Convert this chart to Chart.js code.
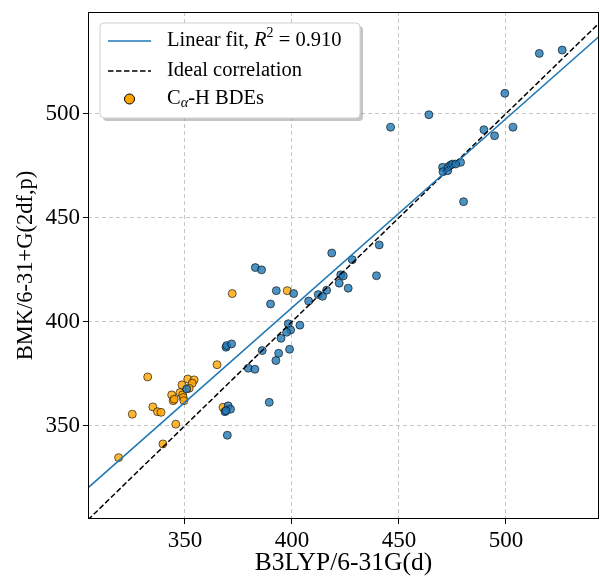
<!DOCTYPE html>
<html><head><meta charset="utf-8">
<script src="https://cdn.jsdelivr.net/npm/chart.js@4"></script>
<style>html,body{margin:0;padding:0;background:#fff;overflow:hidden}canvas{display:block}</style>
</head><body>
<canvas id="c" width="600" height="580"></canvas>
<script>
// ---- data ----
const xTicks = [350, 400, 450, 500];
const yTicks = [350, 400, 450, 500];
const xLimits = [304.7, 543.5];
const yLimits = [305.1, 548.9];

const otherX = [369.2,369.5,371.8,379.6,382.7,370.2,371.3,368.7,369.2,369.8,350.8,386.1,389.4,382.9,385.8,392.7,400.8,390.0,407.8,412.3,414.3,416.2,418.6,428.2,422.8,424.0,422.1,426.3,439.5,440.8,398.3,399.4,397.5,394.9,403.7,398.9,393.8,392.5,499.5,464.0,446.1,503.3,489.7,494.7,478.8,470.4,470.6,472.8,473.1,474.2,475.1,476.5,480.2,515.6,526.3];
const otherY = [387.7,388.5,389.3,377.6,377.1,359.5,357.9,356.7,357.2,345.4,367.6,386.1,361.2,426.0,424.9,414.9,413.5,408.5,409.9,413.0,412.2,415.1,433.0,429.8,422.5,422.0,418.5,416.1,422.1,436.9,399.0,396.0,394.9,392.0,398.3,386.7,384.8,381.3,509.8,499.5,493.5,493.5,492.3,489.4,476.6,474.2,472.1,472.6,474.5,475.3,475.8,475.8,457.7,529.0,530.6];

const caX = [372.1,332.6,325.4,335.0,337.2,338.8,319.0,339.7,345.7,365.0,367.8,351.3,354.3,353.4,352.0,343.8,347.7,348.9,349.2,349.5,344.5,345.0,397.8,348.6];
const caY = [413.5,373.4,355.5,359.0,356.7,356.4,334.6,341.2,350.7,379.3,358.8,372.4,372.0,370.4,368.0,364.8,365.9,364.8,363.5,362.0,362.0,362.7,414.9,369.6];

const fitSlope = 0.909;
const fitIntercept = 43.1;
const fitR2Text = '0.910';

const legendLabels = ['Linear fit, R² = 0.910', 'Ideal correlation', 'Cα-H BDEs'];
const xTitle = 'B3LYP/6-31G(d)';
const yTitle = 'BMK/6-31+G(2df,p)';

// ---- styling ----
const SERIF = "'Liberation Serif', 'DejaVu Serif', serif";
const blueFill = 'rgba(31,119,180,0.8)';
const orangeFill = 'rgba(255,165,0,0.8)';
const edge = 'rgba(0,0,0,0.75)';
const LEG = 20.5;

const toPts = (xs, ys) => xs.map((x, i) => ({x: x, y: ys[i]}));

function roundRect(ctx, x, y, w, h, r) {
  ctx.beginPath();
  ctx.moveTo(x + r, y);
  ctx.lineTo(x + w - r, y); ctx.quadraticCurveTo(x + w, y, x + w, y + r);
  ctx.lineTo(x + w, y + h - r); ctx.quadraticCurveTo(x + w, y + h, x + w - r, y + h);
  ctx.lineTo(x + r, y + h); ctx.quadraticCurveTo(x, y + h, x, y + h - r);
  ctx.lineTo(x, y + r); ctx.quadraticCurveTo(x, y, x + r, y);
  ctx.closePath();
}

function drawPieces(ctx, x, y, pieces) {
  let cx = x;
  for (const p of pieces) {
    ctx.font = (p.italic ? 'italic ' : '') + p.size + 'px ' + SERIF;
    ctx.fillText(p.t, cx, y + (p.dy || 0));
    cx += ctx.measureText(p.t).width;
  }
}

const framePlugin = {
  id: 'frame',
  afterDatasetsDraw(chart) {
    const {ctx, chartArea: a} = chart;
    ctx.save();
    ctx.strokeStyle = '#000';
    ctx.lineWidth = 1;
    ctx.strokeRect(a.left + 0.5, a.top + 0.5, a.right - a.left - 1, a.bottom - a.top - 1);
    ctx.restore();
  }
};

const legendPlugin = {
  id: 'mplLegend',
  afterDraw(chart) {
    const {ctx, chartArea: a} = chart;
    const bx = a.left + 12, by = a.top + 11, bw = 260, bh = 95;
    ctx.save();
    roundRect(ctx, bx + 3, by + 3, bw, bh, 4);
    ctx.fillStyle = 'rgba(140,140,140,0.5)';
    ctx.fill();
    roundRect(ctx, bx, by, bw, bh, 4);
    ctx.fillStyle = '#ffffff';
    ctx.fill();
    ctx.strokeStyle = '#d0d0d0';
    ctx.lineWidth = 1;
    ctx.stroke();

    const rows = [by + 18, by + 48, by + 76];
    const sx1 = bx + 8, sx2 = bx + 51, tx = bx + 67;
    ctx.strokeStyle = '#1f77b4'; ctx.lineWidth = 1.5; ctx.setLineDash([]);
    ctx.beginPath(); ctx.moveTo(sx1, rows[0]); ctx.lineTo(sx2, rows[0]); ctx.stroke();
    ctx.strokeStyle = '#000'; ctx.setLineDash([5.5, 2.5]);
    ctx.beginPath(); ctx.moveTo(sx1, rows[1]); ctx.lineTo(sx2, rows[1]); ctx.stroke();
    ctx.setLineDash([]);
    ctx.beginPath(); ctx.arc((sx1 + sx2) / 2, rows[2], 5, 0, Math.PI * 2);
    ctx.fillStyle = 'rgb(255,165,0)'; ctx.fill();
    ctx.strokeStyle = '#000'; ctx.lineWidth = 1; ctx.stroke();

    ctx.fillStyle = '#000';
    ctx.textBaseline = 'middle';
    drawPieces(ctx, tx, rows[0], [
      {t: 'Linear fit, ', size: LEG},
      {t: 'R', size: LEG, italic: true},
      {t: '2', size: 14, dy: -8},
      {t: ' = ' + fitR2Text, size: LEG}
    ]);
    drawPieces(ctx, tx, rows[1], [{t: legendLabels[1], size: LEG}]);
    drawPieces(ctx, tx, rows[2], [
      {t: 'C', size: LEG},
      {t: 'α', size: 14.5, italic: true, dy: 4.5},
      {t: '-H BDEs', size: LEG}
    ]);
    ctx.restore();
  }
};

const axisCommon = (ticks, lim, title, isY) => ({
  type: 'linear',
  min: lim[0], max: lim[1],
  afterBuildTicks: s => { s.ticks = ticks.map(v => ({value: v})); },
  afterFit: s => {
    if (isY) s.width = 88; else s.height = 61;
    s.paddingTop = 0; s.paddingBottom = 0; s.paddingLeft = 0; s.paddingRight = 0;
  },
  grid: {
    color: '#c6c6c6', lineWidth: 1,
    drawTicks: true, tickLength: 5, tickColor: '#000', tickWidth: 1
  },
  border: {display: false, dash: [4, 3]},
  ticks: {
    font: {family: SERIF, size: 23}, color: '#000', padding: 3,
    callback: v => String(v), maxRotation: 0, autoSkip: false
  },
  title: {
    display: true, text: title, color: '#000',
    font: {family: SERIF, size: isY ? 22.5 : 25.5},
    padding: isY ? {top: 13, bottom: 0} : {top: 0, bottom: 1}
  }
});

new Chart(document.getElementById('c'), {
  data: {
    datasets: [
      {
        type: 'line', label: legendLabels[0], order: 0,
        data: xLimits.map(x => ({x: x, y: fitSlope * x + fitIntercept})),
        borderColor: '#1f77b4', borderWidth: 1.5, pointRadius: 0, fill: false
      },
      {
        type: 'line', label: legendLabels[1], order: 1,
        data: xLimits.map(x => ({x: x, y: x})),
        borderColor: '#000', borderWidth: 1.5, borderDash: [5.5, 2.5], pointRadius: 0, fill: false
      },
      {
        type: 'scatter', label: 'other BDEs', order: 2,
        data: toPts(otherX, otherY),
        backgroundColor: blueFill, borderColor: edge, borderWidth: 0.8, pointRadius: 4
      },
      {
        type: 'scatter', label: legendLabels[2], order: 3,
        data: toPts(caX, caY),
        backgroundColor: orangeFill, borderColor: edge, borderWidth: 0.8, pointRadius: 4
      }
    ]
  },
  options: {
    responsive: false, animation: false, devicePixelRatio: 1,
    layout: {autoPadding: false, padding: {top: 12, right: 1, left: 0, bottom: 0}},
    plugins: {legend: {display: false}, tooltip: {enabled: false}},
    scales: {
      x: axisCommon(xTicks, xLimits, xTitle, false),
      y: axisCommon(yTicks, yLimits, yTitle, true)
    }
  },
  plugins: [framePlugin, legendPlugin]
});
</script>
</body></html>
